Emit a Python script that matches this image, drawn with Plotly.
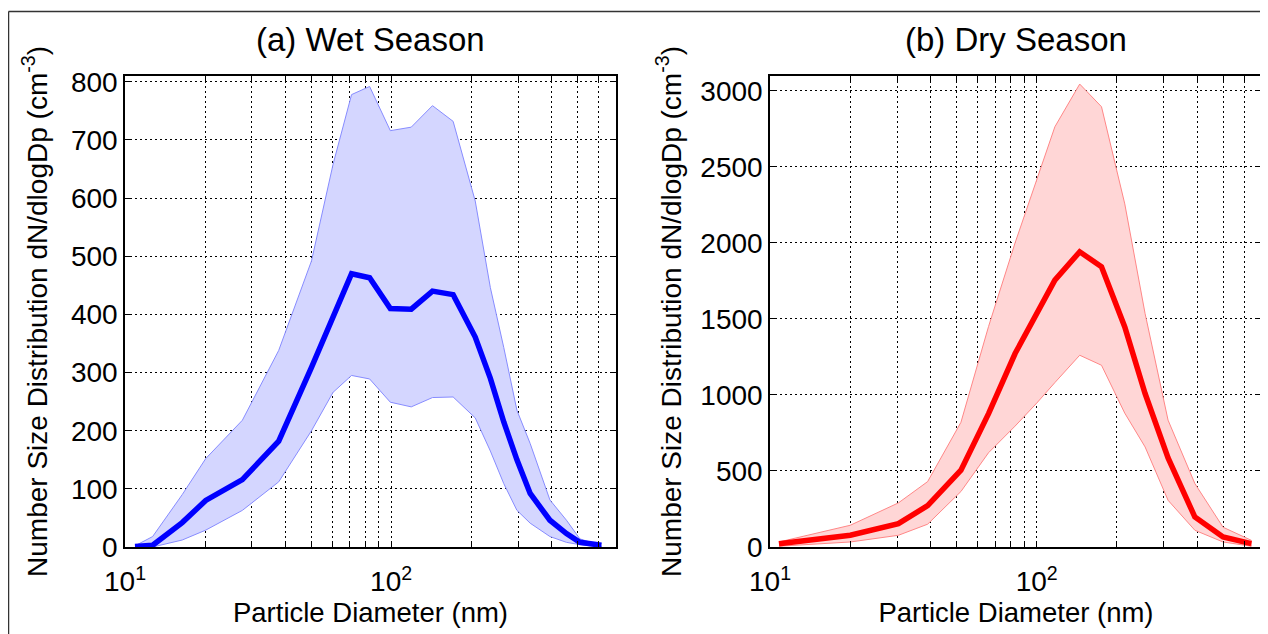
import plotly.graph_objects as go

# ---------------- data ----------------
wet_d = [10.9, 12.7, 16.4, 20.1, 27.6, 37.8, 50.2, 60.5, 71.0, 83.0, 99.3, 119, 143, 171,
         207, 236, 265, 297, 333, 395, 456, 512, 617]
wet_mean = [1, 3, 42, 80, 116, 182, 309, 398, 470, 463, 410, 409, 440, 434,
            361, 290, 215, 150, 92, 46, 23, 8, 3]
wet_upper = [2, 18, 90, 152, 218, 338, 492, 658, 778, 792, 716, 722, 759, 732,
             595, 446, 343, 235, 178, 81, 46, 14, 2]
wet_lower = [0, 0, 12, 29, 63, 112, 200, 266, 295, 289, 249, 241, 257, 258,
             222, 165, 109, 63, 41, 18, 8, 4, 0]

dry_d = [10.8, 20, 30.3, 39, 52, 66, 83, 100, 117, 145, 175, 214, 255, 311, 392, 500, 638]
dry_mean = [22, 77, 154, 272, 505, 877, 1272, 1535, 1755, 1941, 1842, 1447, 1009, 586, 197, 66, 22]
dry_upper = [33, 143, 290, 430, 820, 1450, 2000, 2410, 2763, 3044, 2895, 2256, 1535, 834, 417, 130, 44]
dry_lower = [5, 33, 77, 150, 365, 620, 795, 946, 1081, 1261, 1195, 880, 658, 307, 110, 33, 5]

x_tickvals = [10, 20, 30, 40, 50, 60, 70, 80, 90, 100, 200, 300, 400, 500, 600, 700]
x_ticktext = ["10<sup>1</sup>", "", "", "", "", "", "", "", "", "10<sup>2</sup>",
              "", "", "", "", "", ""]
titles = ["(a) Wet Season", "(b) Dry Season"]
x_title = "Particle Diameter (nm)"
y_title = "Number Size Distribution dN/dlogDp (cm<sup>-3</sup>)"

# page has an 8px body margin; figure fills the rest of the 1268x634 window
OFF = 8
W, H = 1268 - OFF, 634 - OFF
FONT = "Liberation Sans, Arial, Helvetica, sans-serif"


def fx(px):
    return (px - OFF) / W


def fy(py):
    return 1 - (py - OFF) / H


fig = go.Figure()


def add_panel(d, mean, upper, lower, fillc, edgec, linec, xa, ya):
    poly_x = list(d) + list(d)[::-1]
    poly_y = list(upper) + list(lower)[::-1]
    fig.add_trace(go.Scatter(x=poly_x, y=poly_y, fill="toself", fillcolor=fillc,
                             line=dict(color=edgec, width=1), mode="lines",
                             xaxis=xa, yaxis=ya, showlegend=False, hoverinfo="skip"))
    fig.add_trace(go.Scatter(x=d, y=mean, mode="lines",
                             line=dict(color=linec, width=5.5),
                             xaxis=xa, yaxis=ya, showlegend=False))


add_panel(wet_d, wet_mean, wet_upper, wet_lower,
          "rgb(212,214,255)", "rgb(135,140,255)", "rgb(0,0,255)", "x", "y")
add_panel(dry_d, dry_mean, dry_upper, dry_lower,
          "rgb(255,214,214)", "rgb(255,135,135)", "rgb(255,0,0)", "x2", "y2")

ydom = [fy(547), fy(76)]

common_axis = dict(
    showline=True, linecolor="black", linewidth=1.5, mirror="allticks",
    ticks="inside", ticklen=6, tickwidth=1, tickcolor="black",
    showgrid=True, gridcolor="black", gridwidth=1, griddash="2px,3px",
    zeroline=False, layer="above traces", automargin=False,
    tickfont=dict(family=FONT, size=28, color="black"),
)

xcommon = dict(common_axis, type="log", range=[0.9999, 2.845],
               tickmode="array", tickvals=x_tickvals, ticktext=x_ticktext,
               ticklabelstandoff=9,
               title=dict(text=x_title, font=dict(family=FONT, size=27.5, color="black"),
                          standoff=6))

fig.update_layout(
    template="none",
    width=W, height=H,
    margin=dict(l=0, r=0, t=0, b=0, autoexpand=False),
    paper_bgcolor="white", plot_bgcolor="white",
    font=dict(family=FONT, color="black"),
    showlegend=False,
    xaxis=dict(xcommon, domain=[fx(125), fx(616)], anchor="y"),
    xaxis2=dict(xcommon, domain=[fx(770), fx(1262)], anchor="y2"),
    yaxis=dict(common_axis, domain=ydom, range=[0, 810], tickmode="linear", tick0=0, dtick=100,
               anchor="x",
               title=dict(text=y_title, font=dict(family=FONT, size=28, color="black"), standoff=15)),
    yaxis2=dict(common_axis, domain=ydom, range=[0, 3097], tickmode="linear", tick0=0, dtick=500,
                anchor="x2",
                title=dict(text=y_title, font=dict(family=FONT, size=28, color="black"), standoff=11)),
)

# subplot titles
for t, cx in zip(titles, [(125 + 616) / 2, (770 + 1262) / 2]):
    fig.add_annotation(text=t, x=fx(cx), y=fy(39), xref="paper", yref="paper",
                       xanchor="center", yanchor="middle", showarrow=False,
                       font=dict(family=FONT, size=33, color="black"))

# outer frame (top and left edges)
fig.add_shape(type="line", xref="paper", yref="paper",
              x0=fx(8.5), x1=1.0, y0=fy(11.5), y1=fy(11.5),
              line=dict(color="#333333", width=1.5))
fig.add_shape(type="line", xref="paper", yref="paper",
              x0=fx(8.5), x1=fx(8.5), y0=fy(11.5), y1=0,
              line=dict(color="#333333", width=1.5))

fig.write_html("out.html")
